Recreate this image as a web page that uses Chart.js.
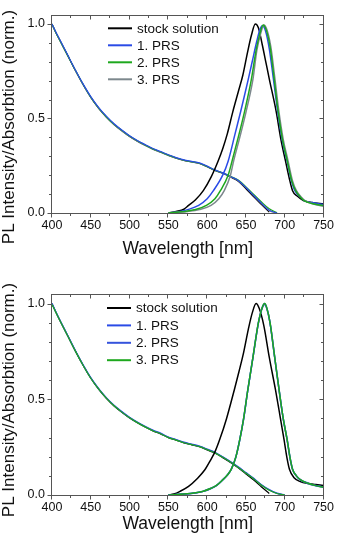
<!DOCTYPE html>
<html>
<head>
<meta charset="utf-8">
<script src="https://cdn.jsdelivr.net/npm/chart.js@4.4.1/dist/chart.umd.min.js"></script>
<style>
html, body { margin: 0; padding: 0; background: #fff; }
#wrap { position: relative; width: 339px; height: 544px; }
.panel { position: absolute; left: 0; width: 339px; height: 272px; }
</style>
</head>
<body>
<div id="wrap">
  <div class="panel" style="top:0"><canvas id="c1" width="339" height="272"></canvas></div>
  <div class="panel" style="top:272px"><canvas id="c2" width="339" height="272"></canvas></div>
</div>
<script>
// axes
const xMin = 400, xMax = 750, xStep = 50, xMinor = 25;
const yMin = 0, yMax = 1.05, yMinor = 0.1;
const yTicks = [0, 0.5, 1.0];
const xTitle = 'Wavelength [nm]';
const yTitle = 'PL Intensity/Absorbtion (norm.)';
const seriesNames = ['stock solution', '1. PRS', '2. PRS', '3. PRS'];

// absorption, shared wavelength grid
const absNm = [400,405,410,420,430,440,450,460,470,480,490,500,510,520,530,540,550,560,570,580,590,600,610,620,630,640,650,660,670,680,690,700];

// top panel
const absA_stock = [1.0,0.955,0.915,0.835,0.755,0.68,0.612,0.555,0.508,0.468,0.435,0.405,0.38,0.358,0.338,0.322,0.305,0.29,0.278,0.27,0.262,0.245,0.225,0.21,0.19,0.168,0.128,0.085,0.045,0.005,null,null];
const absA_prs1  = [1.0,0.957,0.918,0.838,0.758,0.683,0.616,0.559,0.512,0.472,0.439,0.409,0.384,0.362,0.341,0.325,0.308,0.293,0.281,0.273,0.265,0.248,0.228,0.212,0.193,0.172,0.135,0.093,0.052,0.014,0,null];
const absA_prs2  = [1.0,0.954,0.914,0.835,0.756,0.681,0.613,0.556,0.509,0.469,0.437,0.407,0.382,0.36,0.339,0.323,0.306,0.291,0.279,0.271,0.263,0.246,0.227,0.212,0.194,0.174,0.138,0.098,0.058,0.022,0.002,null];
const absA_prs3  = [0.995,0.953,0.913,0.834,0.754,0.679,0.611,0.554,0.507,0.467,0.434,0.404,0.379,0.357,0.337,0.321,0.305,0.29,0.278,0.27,0.262,0.245,0.226,0.211,0.192,0.171,0.134,0.092,0.05,0.012,0,null];

const plA_stock = [[550,0],[560,0.008],[570,0.02],[576,0.04],[585,0.07],[595,0.118],[605,0.19],[614,0.274],[620,0.34],[626,0.42],[633,0.535],[640,0.64],[646,0.73],[652,0.85],[657,0.94],[662,1.0],[666,0.98],[671,0.89],[676,0.79],[680,0.71],[689,0.535],[695,0.39],[701,0.274],[706,0.18],[710,0.118],[716,0.09],[724,0.066],[735,0.055],[750,0.049]];
const plA_prs1 = [[550,0],[565,0.008],[575,0.018],[589,0.04],[600,0.075],[608,0.118],[620,0.2],[627,0.274],[636,0.42],[643,0.534],[648,0.62],[653,0.708],[658,0.8],[664,0.91],[668,0.97],[671,0.99],[675,0.965],[680,0.87],[685,0.72],[691,0.534],[697,0.38],[703,0.274],[708,0.18],[713,0.118],[720,0.085],[725,0.066],[735,0.055],[750,0.045]];
const plA_prs2 = [[550,0],[570,0.008],[585,0.018],[599,0.04],[610,0.075],[617,0.118],[627,0.2],[632,0.274],[640,0.4],[648,0.534],[657,0.708],[663,0.86],[668,0.95],[672,0.995],[676,0.97],[681,0.88],[686,0.72],[691,0.55],[697,0.39],[703,0.28],[709,0.17],[714,0.118],[720,0.085],[725,0.066],[735,0.05],[750,0.04]];
const plA_prs3 = [[550,0],[575,0.008],[590,0.018],[605,0.04],[615,0.075],[622,0.118],[630,0.2],[634,0.274],[642,0.4],[650,0.534],[659,0.708],[664,0.86],[669,0.95],[673,0.995],[677,0.97],[682,0.88],[687,0.72],[692,0.55],[698,0.39],[704,0.28],[710,0.17],[715,0.118],[721,0.085],[726,0.066],[735,0.05],[750,0.035]];

// bottom panel
const absB_stock = [1.0,0.955,0.913,0.833,0.753,0.678,0.61,0.553,0.505,0.465,0.432,0.402,0.377,0.355,0.335,0.319,0.3,0.287,0.272,0.262,0.252,0.235,0.219,0.195,0.17,0.142,0.11,0.078,0.042,0.008,null,null];
const absB_prs1  = [1.0,0.957,0.916,0.836,0.756,0.681,0.613,0.557,0.509,0.469,0.436,0.406,0.381,0.359,0.339,0.323,0.303,0.29,0.276,0.266,0.256,0.24,0.223,0.2,0.175,0.147,0.117,0.087,0.054,0.028,0.01,0];
const absB_prs2  = [1.0,0.955,0.914,0.834,0.754,0.679,0.611,0.555,0.507,0.467,0.434,0.404,0.379,0.357,0.337,0.321,0.301,0.288,0.274,0.264,0.254,0.238,0.221,0.198,0.173,0.145,0.115,0.085,0.052,0.026,0.008,0];
const absB_prs3  = [0.995,0.954,0.913,0.833,0.753,0.678,0.61,0.554,0.506,0.466,0.433,0.403,0.378,0.356,0.336,0.32,0.3,0.287,0.273,0.263,0.253,0.237,0.22,0.197,0.172,0.144,0.114,0.084,0.051,0.025,0.008,0];

const plB_stock = [[550,0],[557,0.005],[565,0.019],[576,0.045],[587,0.085],[597,0.132],[604,0.18],[610,0.225],[616,0.288],[625,0.4],[635,0.55],[641,0.645],[647,0.745],[653,0.865],[658,0.95],[663,1.0],[667,0.975],[673,0.885],[680,0.72],[688,0.55],[694,0.41],[699,0.29],[703,0.19],[706,0.135],[712,0.09],[720,0.07],[730,0.06],[740,0.055],[750,0.05]];
const plB_prs1 = [[550,0],[570,0.005],[585,0.012],[595,0.02],[605,0.035],[612,0.05],[620,0.08],[626,0.105],[631,0.135],[637,0.2],[642,0.29],[647,0.4],[652,0.54],[659,0.72],[666,0.9],[671,0.98],[674,1.0],[677,0.975],[681,0.9],[687,0.72],[693,0.54],[698,0.4],[703,0.29],[707,0.19],[710,0.135],[715,0.1],[720,0.08],[730,0.062],[740,0.05],[750,0.042]];
const plB_prs2 = [[550,0],[570,0.005],[585,0.011],[595,0.019],[605,0.034],[612,0.049],[620,0.078],[626,0.103],[631,0.133],[637,0.198],[642,0.288],[647,0.398],[652,0.538],[659,0.718],[666,0.898],[671,0.978],[674,0.995],[677,0.972],[681,0.898],[687,0.718],[693,0.538],[698,0.398],[703,0.288],[707,0.188],[710,0.134],[715,0.099],[720,0.079],[730,0.06],[740,0.048],[750,0.04]];
const plB_prs3 = [[550,0],[570,0.005],[585,0.012],[595,0.02],[605,0.035],[612,0.05],[620,0.079],[626,0.104],[631,0.134],[637,0.199],[642,0.289],[647,0.4],[652,0.54],[659,0.72],[666,0.9],[671,0.98],[674,1.0],[677,0.975],[681,0.9],[687,0.72],[693,0.54],[698,0.4],[703,0.29],[707,0.19],[710,0.135],[715,0.1],[720,0.08],[730,0.061],[740,0.049],[750,0.041]];

// colours
const AXIS = '#555';
const TEXT = '#111';
const FONT = 'Liberation Sans, Arial, sans-serif';
const colorsA = ['#000000', '#2a4be6', '#1ea81e', '#7d888d'];
const colorsB = ['#000000', '#2a4be6', '#3553dc', '#1ea81e'];

// box, inward/outward ticks, y title, legend
const framePlugin = {
    id: 'frame',
    afterDraw(chart, args, o) {
        const {ctx, chartArea: a, scales: {x, y}} = chart;
        ctx.save();
        ctx.strokeStyle = AXIS;
        ctx.lineWidth = 1;
        const L = Math.round(a.left) - 0.5, R = Math.round(a.right) - 0.5;
        const T = Math.round(a.top) + 0.5, B = Math.round(a.bottom) + 0.5;
        ctx.strokeRect(L, T, R - L, B - T);
        ctx.beginPath();
        for (let v = xMin; v <= xMax + 0.01; v += xMinor) {
            const p = Math.round(x.getPixelForValue(v)) - 0.5;
            const len = (v - xMin) % xStep === 0 ? 4 : 2.5;
            ctx.moveTo(p, B); ctx.lineTo(p, B + len);
            ctx.moveTo(p, T); ctx.lineTo(p, T + len);
        }
        for (let i = 0; i * yMinor <= 1.0001; i++) {
            const v = i * yMinor;
            const p = Math.round(y.getPixelForValue(v)) + 0.5;
            const len = i % 5 === 0 ? 4 : 2.5;
            ctx.moveTo(L, p); ctx.lineTo(L - len, p);
            ctx.moveTo(R, p); ctx.lineTo(R - len, p);
        }
        ctx.stroke();

        // y title
        ctx.fillStyle = TEXT;
        ctx.font = '17px ' + FONT;
        ctx.textAlign = 'center';
        ctx.textBaseline = 'middle';
        ctx.translate(o.yTitleX, o.yTitleY);
        ctx.rotate(-Math.PI / 2);
        ctx.fillText(yTitle, 0, 0);
        ctx.setTransform(1, 0, 0, 1, 0, 0);

        // legend
        ctx.font = '13.5px ' + FONT;
        ctx.textAlign = 'left';
        let row = 0;
        chart.data.datasets.forEach(ds => {
            if (!ds.inLegend) return;
            const yy = o.legendY + row * o.legendRow;
            ctx.strokeStyle = ds.borderColor;
            ctx.lineWidth = 2;
            ctx.beginPath();
            ctx.moveTo(o.legendX, yy); ctx.lineTo(o.legendX + 24, yy);
            ctx.stroke();
            ctx.fillStyle = TEXT;
            ctx.fillText(ds.label, o.legendX + 29, yy + 0.5);
            row++;
        });
        ctx.restore();
    }
};

function toPts(pairs) { return pairs.map(p => ({x: p[0], y: p[1]})); }
function absPts(vals) { return absNm.map((n, i) => ({x: n, y: vals[i]})); }

function makeChart(id, pl, abs, colors, lay) {
    const datasets = [];
    // absorption underneath, PL on top; lower order drawn last
    pl.forEach((s, i) => datasets.push({
        label: seriesNames[i], inLegend: true, data: toPts(s),
        borderColor: colors[i], borderWidth: 1.5, order: 10 - lay.plOrder[i],
        pointRadius: 0, cubicInterpolationMode: 'monotone', fill: false
    }));
    abs.forEach((s, i) => datasets.push({
        label: seriesNames[i] + ' abs', inLegend: false, data: absPts(s),
        borderColor: colors[i], borderWidth: 1.2, order: 20 - lay.absOrder[i],
        pointRadius: 0, cubicInterpolationMode: 'monotone', fill: false
    }));

    return new Chart(document.getElementById(id), {
        type: 'line',
        data: { datasets: datasets },
        plugins: [framePlugin],
        options: {
            responsive: false,
            animation: false,
            devicePixelRatio: 1,
            layout: { padding: { top: lay.top, right: 12, left: 0, bottom: 0 } },
            plugins: {
                legend: { display: false },
                tooltip: { enabled: false },
                frame: lay
            },
            scales: {
                x: {
                    type: 'linear', min: xMin, max: xMax,
                    grid: { display: false, drawTicks: false },
                    border: { display: false },
                    ticks: { stepSize: xStep, padding: 5, color: TEXT, maxRotation: 0,
                             font: { family: FONT, size: 12.5 } },
                    title: { display: true, text: xTitle, color: TEXT,
                             font: { family: FONT, size: 17.5 },
                             padding: { top: 0, bottom: lay.xTitlePad } },
                    afterFit: s => { s.height = lay.xAxisH; }
                },
                y: {
                    type: 'linear', min: yMin, max: yMax,
                    grid: { display: false, drawTicks: false },
                    border: { display: false },
                    ticks: { padding: 7, color: TEXT,
                             font: { family: FONT, size: 12.5 },
                             callback: v => v.toFixed(1) },
                    afterBuildTicks: s => { s.ticks = yTicks.map(v => ({ value: v })); },
                    afterFit: s => { s.width = 52; }
                }
            }
        }
    });
}

makeChart('c1',
    [plA_stock, plA_prs1, plA_prs2, plA_prs3],
    [absA_stock, absA_prs1, absA_prs2, absA_prs3],
    colorsA,
    { top: 11, xAxisH: 59, xTitlePad: 12.3, yTitleX: 9, yTitleY: 127,
      legendX: 108, legendY: 28.3, legendRow: 17, plOrder: [1, 2, 4, 3], absOrder: [1, 4, 3, 2] });

makeChart('c2',
    [plB_stock, plB_prs1, plB_prs2, plB_prs3],
    [absB_stock, absB_prs1, absB_prs2, absB_prs3],
    colorsB,
    { top: 22, xAxisH: 49, xTitlePad: 9.2, yTitleX: 9, yTitleY: 128,
      legendX: 107, legendY: 36, legendRow: 17.4, plOrder: [1, 2, 3, 4], absOrder: [1, 2, 3, 4] });
</script>
</body>
</html>
